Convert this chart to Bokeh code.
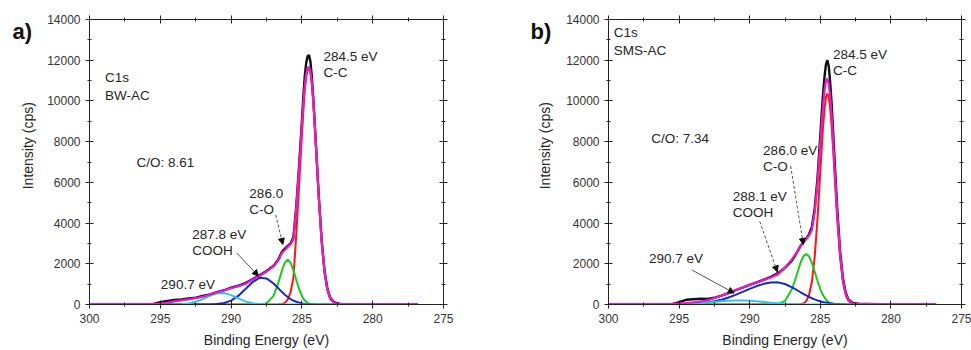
import math
from bokeh.plotting import figure
from bokeh.layouts import row
from bokeh.models import Range1d, LinearAxis, SingleIntervalTicker, Label, Arrow, NormalHead
from bokeh.embed import file_html
from bokeh.resources import INLINE

# ---------------- data ----------------
binding_energy = [300, 298, 296.5, 296, 295.5, 295, 294.5, 294, 293.5, 293,
                  292.5, 292, 291.5, 291, 290.5, 290, 289.5, 289, 288.5, 288,
                  287.5, 287, 286.7, 286.4, 286.2, 286.0, 285.8, 285.6, 285.4, 285.2,
                  285.0, 284.9, 284.8, 284.7, 284.6, 284.5, 284.4, 284.3, 284.2, 284.1,
                  284.0, 283.8, 283.6, 283.4, 283.2, 283.0, 282.7, 282.3, 281, 279, 276.8]

# a) BW-AC
bw_measured = [5, 10, 10, 20, 30, 110, 170, 220, 250, 300,
               340, 420, 500, 610, 700, 830, 920, 1050, 1240, 1440,
               1650, 1900, 2170, 2600, 2750, 2880, 3000, 3300, 4800, 6800,
               9000, 10200, 11200, 11850, 12200, 12250, 11950, 11200, 10200, 9000,
               7750, 5250, 3150, 1650, 780, 330, 100, 30, 10, 5, 5]
bw_envelope = [15, 15, 20, 25, 35, 50, 90, 150, 200, 255,
               315, 380, 485, 590, 695, 800, 900, 1010, 1220, 1400,
               1620, 1880, 2130, 2540, 2680, 2830, 2950, 3200, 4700, 6650,
               8780, 9850, 10740, 11310, 11610, 11680, 11460, 10890, 10020, 8920,
               7680, 5170, 3050, 1580, 720, 290, 60, 15, 12, 12, 12]
bw_cc = [0] * 22 + [3, 25, 80, 240, 600, 1300, 3400, 5800,
                    8300, 9500, 10500, 11150, 11500, 11600, 11410, 10860, 10000, 8900,
                    7670, 5160, 3040, 1570, 710, 280, 55, 4, 0, 0, 0]
bw_co = [0] * 19 + [3, 53, 421, 979, 1689, 2059, 2200, 2059, 1689, 1214, 764,
                    421, 298, 204, 135, 86, 53, 32, 18, 10, 6,
                    3] + [0] * 10
bw_cooh = [0] * 11 + [1, 6, 22, 73, 193, 421, 749, 1094, 1309,
                      1283, 1031, 821, 609, 480, 366, 270, 193, 134, 90,
                      58, 47, 37, 29, 22, 17, 13, 10, 8, 6,
                      4, 2, 1] + [0] * 8
bw_pi = [0] * 6 + [1, 4, 16, 52,
                   132, 267, 430, 552, 565, 460, 299, 155, 64, 21,
                   6, 1] + [0] * 29

# b) SMS-AC
sms_measured = [5, 10, 10, 15, 20, 120, 230, 260, 280, 270,
                330, 440, 560, 700, 830, 960, 1090, 1220, 1360, 1540,
                1800, 2170, 2500, 2880, 3060, 3230, 3450, 3800, 4700, 6200,
                8300, 9400, 10400, 11200, 11800, 12000, 11700, 10900, 9900, 8600,
                7300, 4700, 2650, 1300, 580, 240, 80, 40, 10, 5, 5]
sms_envelope = [15, 15, 20, 25, 35, 50, 75, 100, 140, 200,
                320, 430, 560, 700, 830, 960, 1080, 1200, 1330, 1480,
                1800, 2230, 2520, 2860, 3060, 3220, 3380, 3650, 4500, 5950,
                7900, 8900, 9800, 10530, 10960, 11100, 10820, 10200, 9300, 8150,
                6900, 4450, 2500, 1220, 520, 200, 45, 15, 12, 12, 12]
sms_cc = [0] * 22 + [1, 13, 50, 162, 455, 1105, 2316, 4186,
                     6525, 7707, 8772, 9621, 10170, 10360, 10170, 9621, 8772, 7707,
                     6525, 4186, 2316, 1105, 455, 162, 26, 1, 0, 0, 0]
sms_co = [0] * 18 + [1, 22,
                     173, 760, 1389, 2052, 2365, 2480, 2365, 2052, 1620, 1163,
                     760, 592, 451, 336, 244, 173, 120, 81, 54, 35,
                     22, 8, 2] + [0] * 8
sms_cooh = [0, 0, 1, 2, 4, 9, 17, 32, 57, 96,
            155, 236, 343, 472, 618, 768, 905, 1014, 1079, 1088,
            1006, 844, 725, 601, 520, 443, 372, 307, 250, 200,
            157, 139, 122, 107, 93, 81, 70, 60, 52, 44,
            38, 27, 19, 13, 9, 6, 3, 1, 0, 0, 0]
sms_pi = [0, 0, 1, 3, 6, 13, 24, 41, 65, 95,
          128, 160, 185, 199, 197, 181, 154, 121, 88, 60,
          37, 22, 15, 10, 8, 6, 4, 3, 2, 1,
          1, 1, 1, 1, 1, 1] + [0] * 15

y_ticks_interval = 2000
x_ticks_interval = 5

for arr in [bw_measured, bw_envelope, bw_cc, bw_co, bw_cooh, bw_pi,
            sms_measured, sms_envelope, sms_cc, sms_co, sms_cooh, sms_pi]:
    assert len(arr) == len(binding_energy), len(arr)

FONT = "Liberation Sans"
TXT = "#262626"
C_BLACK = "#111111"
C_RED = "#ff1414"
C_GREEN = "#22c322"
C_BLUE = "#1e28b4"
C_CYAN = "#38bff0"
C_MAG = "#e31ec6"


def style_axis(ax, labels=True):
    ax.axis_line_color = "#222222"
    ax.major_tick_line_color = "#222222"
    ax.minor_tick_line_color = "#222222"
    ax.major_tick_in = 4
    ax.major_tick_out = 4
    ax.minor_tick_in = 2
    ax.minor_tick_out = 2
    ax.major_label_text_font = FONT
    ax.major_label_text_color = "#333333"
    ax.axis_label_text_font = FONT
    ax.axis_label_text_font_style = "normal"
    ax.axis_label_text_color = TXT
    ax.axis_label_text_font_size = "14px"
    if labels:
        ax.major_label_text_font_size = "12px"
    else:
        ax.major_label_text_font_size = "0px"
        ax.major_label_text_color = None
        ax.major_label_standoff = 0


def make_panel(width, bl, br):
    p = figure(width=width, height=350, x_range=Range1d(300, 275), y_range=Range1d(0, 14000),
               output_backend="svg", toolbar_location=None,
               min_border_left=bl, min_border_right=br, min_border_top=19, min_border_bottom=45)
    p.xgrid.visible = False
    p.ygrid.visible = False
    p.outline_line_color = "#222222"
    p.xaxis.ticker = SingleIntervalTicker(interval=x_ticks_interval, num_minor_ticks=2)
    p.yaxis.ticker = SingleIntervalTicker(interval=y_ticks_interval, num_minor_ticks=2)
    p.xaxis.axis_label = "Binding Energy (eV)"
    p.xaxis.axis_label_standoff = 6
    style_axis(p.xaxis[0])
    style_axis(p.yaxis[0])
    top = LinearAxis(ticker=SingleIntervalTicker(interval=x_ticks_interval, num_minor_ticks=2))
    right = LinearAxis(ticker=SingleIntervalTicker(interval=y_ticks_interval, num_minor_ticks=2))
    style_axis(top, labels=False)
    style_axis(right, labels=False)
    p.add_layout(top, "above")
    p.add_layout(right, "right")
    p.background_fill_color = "white"
    p.border_fill_color = "white"
    return p


def make_strip(width, letter, letter_x, ylabel_x):
    """Narrow left strip holding the panel letter and the y-axis title (pixel coordinates)."""
    s = figure(width=width, height=350, x_range=Range1d(0, width), y_range=Range1d(350, 0),
               output_backend="svg", toolbar_location=None, title=None,
               min_border_left=0, min_border_right=0, min_border_top=0, min_border_bottom=0,
               x_axis_type=None, y_axis_type=None)
    s.xgrid.visible = False
    s.ygrid.visible = False
    s.outline_line_color = None
    s.background_fill_color = "white"
    s.border_fill_color = "white"
    s.add_layout(Label(x=letter_x, y=15, text=letter, text_font=FONT, text_font_size="22px",
                       text_font_style="bold", text_color="#111111",
                       text_baseline="middle", text_align="left"))
    s.add_layout(Label(x=ylabel_x, y=155, text="Intensity (cps)", text_font=FONT,
                       text_font_size="14px", text_color=TXT, angle=math.pi / 2,
                       text_align="center", text_baseline="middle"))
    return s


def draw_curves(p, meas, env, cc, co, cooh, pi):
    p.line(binding_energy, meas, line_color=C_BLACK, line_width=2.4)
    p.line(binding_energy, cc, line_color=C_RED, line_width=2)
    p.line(binding_energy, co, line_color=C_GREEN, line_width=2)
    p.line(binding_energy, cooh, line_color=C_BLUE, line_width=2)
    p.line(binding_energy, pi, line_color=C_CYAN, line_width=2)
    p.line(binding_energy, env, line_color=C_MAG, line_width=2.2)


def add_text(p, x, y, text, size="13.5px"):
    p.add_layout(Label(x=x, y=y, text=text, text_font=FONT, text_font_size=size,
                       text_color=TXT, text_align="left", text_baseline="middle"))


def add_arrow(p, xs, ys, xe, ye, dash):
    p.add_layout(Arrow(end=NormalHead(size=6, fill_color="#111111", line_color="#111111", line_width=1),
                       x_start=xs, y_start=ys, x_end=xe, y_end=ye,
                       line_color="#555555", line_width=1, line_dash=dash))


# ---------------- panel a ----------------
sa = make_strip(40, "a)", 12, 27)
pa = make_panel(440, 49, 37)
draw_curves(pa, bw_measured, bw_envelope, bw_cc, bw_co, bw_cooh, bw_pi)
add_text(pa, 298.9, 11130, "C1s")
add_text(pa, 298.9, 10280, "BW-AC")
add_text(pa, 296.68, 6985, "C/O: 8.61")
add_text(pa, 283.47, 12200, "284.5 eV")
add_text(pa, 283.47, 11400, "C-C")
add_text(pa, 288.71, 5430, "286.0")
add_text(pa, 288.71, 4675, "C-O")
add_text(pa, 292.74, 3440, "287.8 eV")
add_text(pa, 292.74, 2650, "COOH")
add_text(pa, 294.96, 995, "290.7 eV")
add_arrow(pa, 286.85, 4400, 286.35, 2950, "3 2")
add_arrow(pa, 289.6, 2530, 288.07, 1400, "solid")

# ---------------- panel b ----------------
sb = make_strip(80, "b)", 50, 64)
pb = make_panel(411, 48, 10)
draw_curves(pb, sms_measured, sms_envelope, sms_cc, sms_co, sms_cooh, sms_pi)
add_text(pb, 299.62, 13360, "C1s")
add_text(pb, 299.62, 12480, "SMS-AC")
add_text(pb, 296.97, 8160, "C/O: 7.34")
add_text(pb, 284.1, 12280, "284.5 eV")
add_text(pb, 284.1, 11480, "C-C")
add_text(pb, 289.05, 7550, "286.0 eV")
add_text(pb, 289.05, 6770, "C-O")
add_text(pb, 291.2, 5325, "288.1 eV")
add_text(pb, 291.2, 4530, "COOH")
add_text(pb, 297.14, 2240, "290.7 eV")
add_arrow(pb, 287.1, 6800, 286.2, 2950, "3 2")
add_arrow(pb, 289.29, 4080, 288.04, 1600, "3 2")
add_arrow(pb, 294.1, 1700, 291.1, 560, "solid")

layout = row(sa, pa, sb, pb)
open("out.html", "w").write(file_html(layout, INLINE))
